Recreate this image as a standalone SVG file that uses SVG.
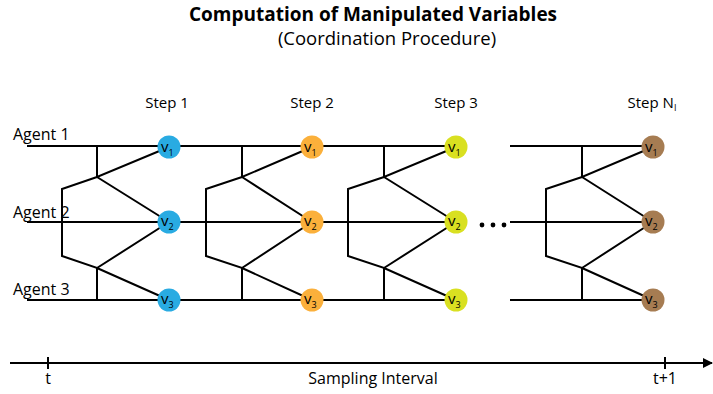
<svg xmlns="http://www.w3.org/2000/svg" width="713" height="394" viewBox="0 0 713 394">
<style>
text{font-family:"Open Sans","Liberation Sans",sans-serif;fill:#000}
.ln{stroke:#000;stroke-width:2;fill:none}
.lbl{font-size:16px}
.stp{font-size:15px;text-anchor:middle}
.v{font-size:15px}
.sub{font-size:9px}
</style>
<defs>
<marker id="arr" markerWidth="10" markerHeight="10" refX="9" refY="5" orient="auto" markerUnits="userSpaceOnUse">
<path d="M0,0 L10,5 L0,10 Z" fill="#000"/>
</marker>
</defs>
<rect width="713" height="394" fill="#fff"/>
<g id="title">
<text x="373" y="21" text-anchor="middle" font-size="19" font-weight="bold">Computation of Manipulated Variables</text>
<text x="387" y="45" text-anchor="middle" font-size="18.5">(Coordination Procedure)</text>
</g>
<g id="agents">
<text class="lbl" x="13" y="140">Agent 1</text>
<text class="lbl" x="13" y="218">Agent 2</text>
<text class="lbl" x="13" y="295">Agent 3</text>
</g>
<g id="steps">
<text class="stp" x="167" y="108">Step 1</text>
<text class="stp" x="312" y="108">Step 2</text>
<text class="stp" x="456" y="108">Step 3</text>
<text class="stp" x="652" y="108">Step N<tspan font-size="9" dy="3">I</tspan></text>
</g>
<g id="connectors">
<path class="ln" d="M27,146 H456 M27,222 H456 M27,300 H456 M510,146 H653 M510,222 H653 M510,300 H653"/>
<path class="ln" d="M97,146 V177 L169,147 M97,177 L169,222 M97,177 L62,189 V256 L97,268 L169,222 M97,268 L169,300 M97,268 V300"/>
<path class="ln" d="M242,146 V177 L312,147 M242,177 L312,222 M242,177 L206,189 V256 L242,268 L312,222 M242,268 L312,300 M242,268 V300"/>
<path class="ln" d="M384,146 V177 L456,147 M384,177 L456,222 M384,177 L348,189 V256 L384,268 L456,222 M384,268 L456,300 M384,268 V300"/>
<path class="ln" d="M582,146 V177 L653,147 M582,177 L653,222 M582,177 L546,189 V256 L582,268 L653,222 M582,268 L653,300 M582,268 V300"/>
</g>
<g id="dots" fill="#000">
<circle cx="482" cy="225" r="2.4"/><circle cx="493" cy="225" r="2.4"/><circle cx="504" cy="225" r="2.4"/>
</g>
<g id="step1-nodes" fill="#29ABE2">
<g id="s1v1"><circle cx="169" cy="147" r="11.5"/><text class="v" x="161" y="152">v<tspan class="sub" dy="4">1</tspan></text></g>
<g id="s1v2"><circle cx="169" cy="222" r="11.5"/><text class="v" x="161" y="226">v<tspan class="sub" dy="4">2</tspan></text></g>
<g id="s1v3"><circle cx="169" cy="300" r="11.5"/><text class="v" x="161" y="304">v<tspan class="sub" dy="4">3</tspan></text></g>
</g>
<g id="step2-nodes" fill="#FBB03B">
<g id="s2v1"><circle cx="312" cy="147" r="11.5"/><text class="v" x="304" y="152">v<tspan class="sub" dy="4">1</tspan></text></g>
<g id="s2v2"><circle cx="312" cy="222" r="11.5"/><text class="v" x="304" y="226">v<tspan class="sub" dy="4">2</tspan></text></g>
<g id="s2v3"><circle cx="312" cy="300" r="11.5"/><text class="v" x="304" y="304">v<tspan class="sub" dy="4">3</tspan></text></g>
</g>
<g id="step3-nodes" fill="#D9E021">
<g id="s3v1"><circle cx="456" cy="147" r="11.5"/><text class="v" x="448" y="152">v<tspan class="sub" dy="4">1</tspan></text></g>
<g id="s3v2"><circle cx="456" cy="222" r="11.5"/><text class="v" x="448" y="226">v<tspan class="sub" dy="4">2</tspan></text></g>
<g id="s3v3"><circle cx="456" cy="300" r="11.5"/><text class="v" x="448" y="304">v<tspan class="sub" dy="4">3</tspan></text></g>
</g>
<g id="stepN-nodes" fill="#A67C52">
<g id="sNv1"><circle cx="653" cy="147" r="11.5"/><text class="v" x="645" y="152">v<tspan class="sub" dy="4">1</tspan></text></g>
<g id="sNv2"><circle cx="653" cy="222" r="11.5"/><text class="v" x="645" y="226">v<tspan class="sub" dy="4">2</tspan></text></g>
<g id="sNv3"><circle cx="653" cy="300" r="11.5"/><text class="v" x="645" y="304">v<tspan class="sub" dy="4">3</tspan></text></g>
</g>
<g id="axis">
<line class="ln" x1="10" y1="363" x2="712" y2="363" marker-end="url(#arr)"/>
<path class="ln" d="M48,357 V369 M665,357 V369"/>
<text x="48" y="384" text-anchor="middle" font-size="16">t</text>
<text x="373" y="384" text-anchor="middle" font-size="16">Sampling Interval</text>
<text x="665" y="384" text-anchor="middle" font-size="16">t+1</text>
</g>
</svg>
